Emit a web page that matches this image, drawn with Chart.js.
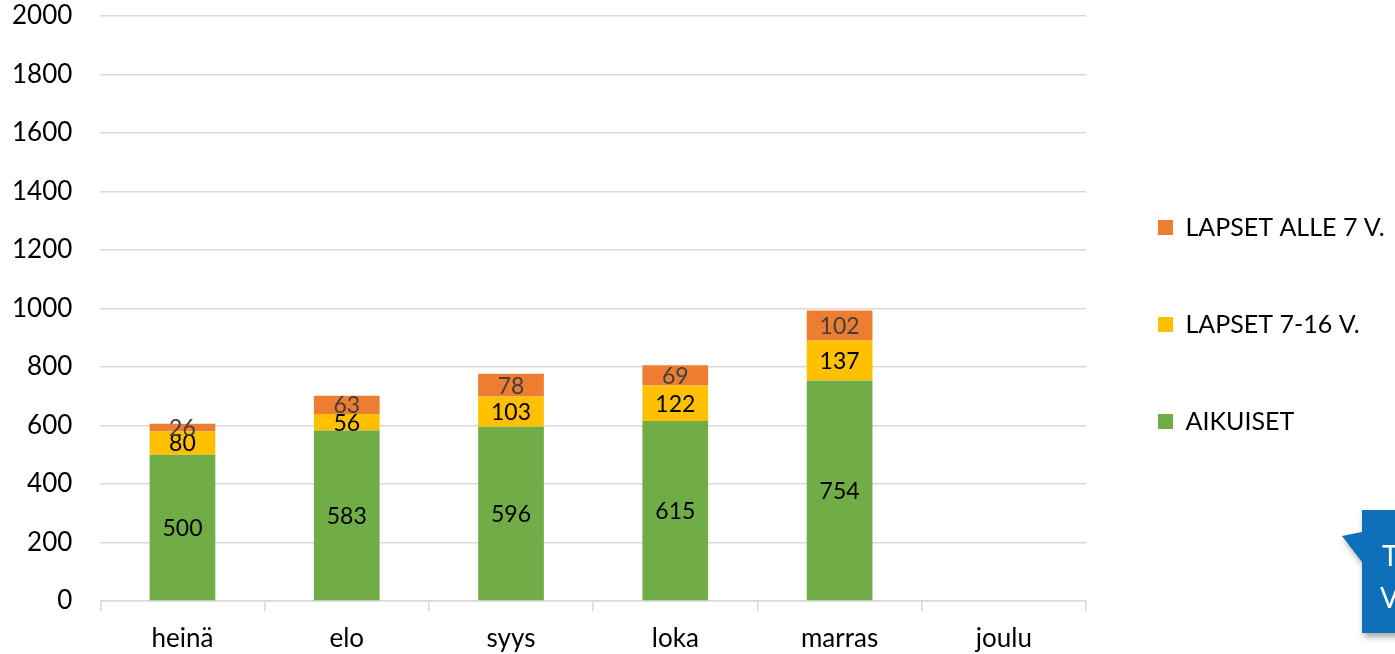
<!DOCTYPE html>
<html>
<head>
<meta charset="utf-8">
<script src="https://cdn.jsdelivr.net/npm/chart.js@4/dist/chart.umd.min.js"></script>
<style>
    html, body { margin: 0; padding: 0; background: #fff; }
    #wrap { position: relative; width: 1395px; height: 654px; overflow: hidden; }
    #callout { position: absolute; left: 0; top: 0; }
</style>
</head>
<body>
<div id="wrap">
    <canvas id="chart" width="1395" height="654"></canvas>
    <svg id="callout" width="1395" height="654">
        <defs>
            <filter id="shadow" x="-20%" y="-20%" width="160%" height="160%">
                <feDropShadow dx="2" dy="4" stdDeviation="3" flood-color="#000" flood-opacity="0.35"/>
            </filter>
        </defs>
        <polygon points="1362,510 1400,510 1400,633 1362,633 1362,562 1342,536 1362,532"
                 fill="#0B6FB8" filter="url(#shadow)"/>
        <text x="1382" y="566" fill="#fff" font-family="Lato, sans-serif" font-size="28">T</text>
        <text x="1380" y="608" fill="#fff" font-family="Lato, sans-serif" font-size="28">V</text>
    </svg>
</div>
<script>
const months = ["heinä", "elo", "syys", "loka", "marras", "joulu"];
const aikuiset = [500, 583, 596, 615, 754, null];
const lapset716 = [80, 56, 103, 122, 137, null];
const lapsetAlle7 = [26, 63, 78, 69, 102, null];
const yTicks = [0, 200, 400, 600, 800, 1000, 1200, 1400, 1600, 1800, 2000];

const FONT = "Lato, 'Open Sans', sans-serif";

// draws the value in the middle of each bar segment
const barLabels = {
    id: "barLabels",
    afterDatasetsDraw(chart) {
        const ctx = chart.ctx;
        ctx.save();
        ctx.font = "23px " + FONT;
        ctx.textAlign = "center";
        ctx.textBaseline = "middle";
        chart.data.datasets.forEach((ds, i) => {
            const meta = chart.getDatasetMeta(i);
            meta.data.forEach((bar, j) => {
                const v = ds.data[j];
                if (v === null || v === undefined) return;
                const mid = (bar.y + bar.base) / 2;
                ctx.fillStyle = ds.labelColor;
                ctx.fillText(v, bar.x, mid + 1);
            });
        });
        ctx.restore();
    }
};

// fixed legend width so the plot ends where the reference does,
// and nudge the legend column up a bit
const legendPlace = {
    id: "legendPlace",
    beforeInit(chart) {
        const fit = chart.legend.fit;
        chart.legend.fit = function () {
            fit.bind(chart.legend)();
            this.width = 309;
        };
    },
    afterLayout(chart) {
        chart.legend.top -= 17;
        chart.legend.bottom -= 17;
    }
};

new Chart(document.getElementById("chart"), {
    type: "bar",
    data: {
        labels: months,
        datasets: [
            {
                label: "AIKUISET",
                data: aikuiset,
                backgroundColor: "#70AD47",
                labelColor: "#000000"
            },
            {
                label: "LAPSET 7-16 V.",
                data: lapset716,
                backgroundColor: "#FFC000",
                labelColor: "#000000"
            },
            {
                label: "LAPSET ALLE 7 V.",
                data: lapsetAlle7,
                backgroundColor: "#ED7D31",
                labelColor: "#404040"
            }
        ]
    },
    options: {
        responsive: false,
        animation: false,
        datasets: {
            bar: {
                categoryPercentage: 1,
                barPercentage: 0.4,
                borderWidth: 0
            }
        },
        layout: {
            padding: { top: 16, left: 12, right: 0, bottom: -13 }
        },
        scales: {
            x: {
                stacked: true,
                grid: {
                    offset: true,
                    drawOnChartArea: false,
                    drawTicks: true,
                    tickLength: 10,
                    color: "#D9D9D9",
                    lineWidth: 1.5
                },
                border: { display: true, color: "#D9D9D9", width: 1.5 },
                ticks: {
                    color: "#000",
                    font: { family: FONT, size: 26, lineHeight: 1 },
                    padding: 15
                }
            },
            y: {
                stacked: true,
                min: 0,
                max: 2000,
                afterBuildTicks(scale) {
                    scale.ticks = yTicks.map(v => ({ value: v }));
                },
                grid: {
                    drawTicks: true,
                    tickLength: 28,
                    tickColor: "rgba(0,0,0,0)",
                    color: "#D9D9D9",
                    lineWidth: 1.5
                },
                border: { display: false },
                ticks: {
                    color: "#000",
                    font: { family: FONT, size: 26 },
                    padding: 0,
                    callback: v => String(v)
                }
            }
        },
        plugins: {
            tooltip: { enabled: false },
            legend: {
                position: "right",
                reverse: true,
                labels: {
                    color: "#000",
                    font: { family: FONT, size: 25 },
                    boxWidth: 15,
                    boxHeight: 15,
                    padding: 72
                }
            }
        }
    },
    plugins: [barLabels, legendPlace]
});
</script>
</body>
</html>
